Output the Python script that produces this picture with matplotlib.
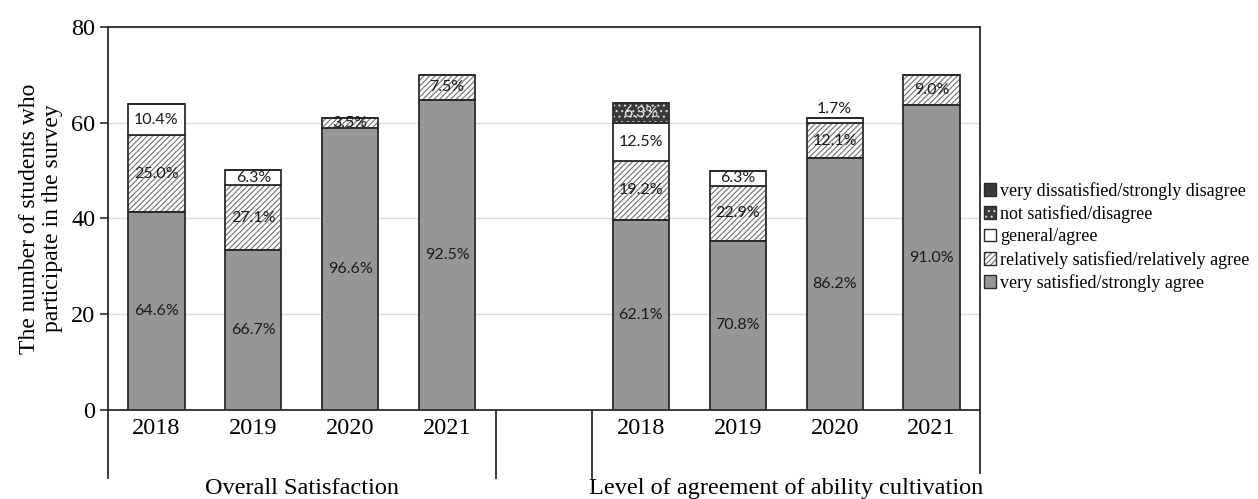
import matplotlib
matplotlib.use("Agg")
import matplotlib.pyplot as plt
from matplotlib.patches import Patch
from matplotlib.lines import Line2D
import numpy as np

# data
groups = ["Overall Satisfaction", "Level of agreement of ability cultivation"]
years = ["2018", "2019", "2020", "2021"]
totals = [[64, 50, 61, 70], [64, 50, 61, 70]]

levels = ["very satisfied/strongly agree",
          "relatively satisfied/relatively agree",
          "general/agree",
          "not satisfied/disagree",
          "very dissatisfied/strongly disagree"]

# percentages per level, [group][level][year]
overall_pct = [
    [64.6, 66.7, 96.6, 92.5],
    [25.0, 27.1, 3.5, 7.5],
    [10.4, 6.3, 0.0, 0.0],
    [0.0, 0.0, 0.0, 0.0],
    [0.0, 0.0, 0.0, 0.0],
]
ability_pct = [
    [62.1, 70.8, 86.2, 91.0],
    [19.2, 22.9, 12.1, 9.0],
    [12.5, 6.3, 1.7, 0.0],
    [6.3, 0.0, 0.0, 0.0],
    [0.0, 0.0, 0.0, 0.0],
]
pcts = [overall_pct, ability_pct]

faces = ["#969696", "white", "white", "#3a3a3a", "#3a3a3a"]
hatches = [None, "//////", None, "...", None]
hatch_cols = [None, "#707070", None, "#d8d8d8", None]
text_cols = ["#1a1a1a", "#1a1a1a", "#1a1a1a", "#e8e8e8", "#e8e8e8"]
edge = "#2b2b2b"

plt.rcParams["hatch.linewidth"] = 0.8
serif = "Liberation Serif"

fig = plt.figure(figsize=(12.58, 4.99), dpi=100)
ax = fig.add_axes([108 / 1258, 89 / 499, 872 / 1258, 383 / 499])

n_year = len(years)
width = 0.58
x_all = []
labels_all = []
for g in range(len(groups)):
    xs = np.arange(n_year) + g * (n_year + 1)
    x_all += list(xs)
    labels_all += years
    bottom = np.zeros(n_year)
    for li in range(len(levels)):
        h = np.array(totals[g]) * np.array(pcts[g][li]) / 100.0
        if hatches[li]:
            ax.bar(xs, h, width, bottom=bottom, color=faces[li], hatch=hatches[li],
                   edgecolor=hatch_cols[li], linewidth=0, zorder=2)
            ax.bar(xs, h, width, bottom=bottom, facecolor="none",
                   edgecolor=edge, linewidth=1.3, zorder=3)
        else:
            ax.bar(xs, h, width, bottom=bottom, color=faces[li],
                   edgecolor=edge, linewidth=1.3, zorder=3)
        for xi, hi, bi, p in zip(xs, h, bottom, pcts[g][li]):
            if p <= 0:
                continue
            if hi < 1.5:
                ax.text(xi, bi + hi + 0.5, f"{p:.1f}%", ha="center", va="bottom",
                        fontsize=11.5, family="Lato", color=text_cols[li], zorder=4)
            else:
                ax.text(xi, bi + hi / 2, f"{p:.1f}%", ha="center", va="center",
                        fontsize=11.5, family="Lato", color=text_cols[li], zorder=4)
        bottom = bottom + h

ax.set_xlim(-0.5, 2 * n_year + 0.5)
ax.set_ylim(0, 80)
ax.set_yticks([0, 20, 40, 60, 80])
ax.yaxis.grid(True, color="#dcdcdc", linewidth=1.0, zorder=0)
ax.set_axisbelow(True)
ax.set_xticks(x_all)
ax.set_xticklabels(labels_all, family=serif, fontsize=17.5)
ax.tick_params(axis="x", length=0, pad=6)
ax.tick_params(axis="y", length=6, width=1.2, direction="out", pad=3, labelsize=17.5,
               color=edge)
for t in ax.get_yticklabels():
    t.set_family(serif)
for s in ax.spines.values():
    s.set_color(edge)
    s.set_linewidth(1.3)

ax.set_ylabel("The number of students who\nparticipate in the survey",
              family=serif, fontsize=17, labelpad=6, linespacing=1.1)

# multi-level category dividers
trans = ax.get_xaxis_transform()
dividers = [-0.5, n_year - 0.5, n_year + 0.5, 2 * n_year + 0.5]
for i, xd in enumerate(dividers):
    y_end = -0.165 if i == len(dividers) - 1 else -0.178
    ax.add_line(Line2D([xd, xd], [0, y_end], transform=trans, color=edge,
                       linewidth=1.3, clip_on=False))
for g, name in enumerate(groups):
    xc = g * (n_year + 1) + (n_year - 1) / 2
    ax.text(xc, -0.205, name, transform=trans, ha="center", va="center",
            family=serif, fontsize=17.5)

handles = []
for li in reversed(range(len(levels))):
    if hatches[li]:
        handles.append((Patch(facecolor=faces[li], hatch=hatches[li],
                              edgecolor=hatch_cols[li], linewidth=0),
                        Patch(facecolor="none", edgecolor=edge, linewidth=1.0)))
    else:
        handles.append(Patch(facecolor=faces[li], edgecolor=edge, linewidth=1.0))
fig.legend(handles, list(reversed(levels)), loc="center left",
           bbox_to_anchor=(982 / 1258, 1 - 237 / 499), frameon=False,
           prop={"family": serif, "size": 13}, handlelength=0.7,
           handleheight=0.7, handletextpad=0.2, labelspacing=0.3,
           borderaxespad=0, borderpad=0.1)

fig.savefig("out.png", dpi=100)
